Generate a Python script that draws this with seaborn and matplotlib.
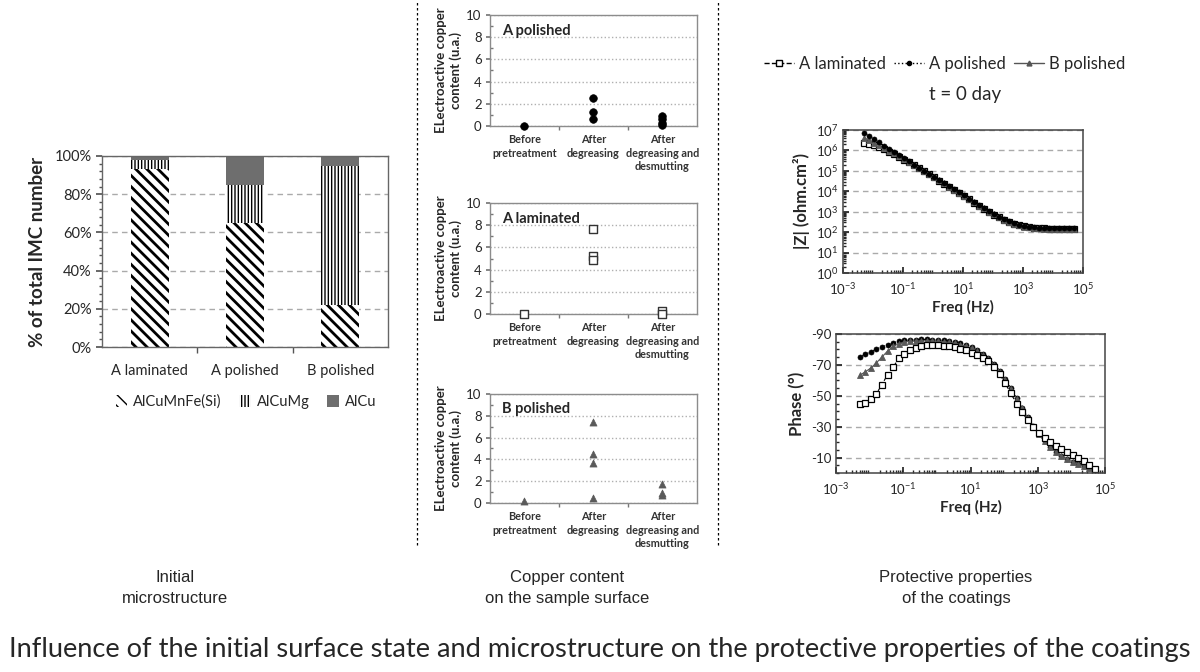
import numpy as np
import pandas as pd
import matplotlib
matplotlib.use("Agg")
import matplotlib.pyplot as plt
import seaborn as sns
from matplotlib.patches import Patch
from matplotlib.lines import Line2D
from matplotlib.ticker import (MultipleLocator, FixedLocator, PercentFormatter,
                               NullFormatter, LogLocator)

sns.set_theme(style="white")
plt.rcParams['font.family'] = ['Lato', 'DejaVu Sans']
plt.rcParams['hatch.linewidth'] = 1.0
plt.rcParams['axes.unicode_minus'] = False

# ---------------- data ----------------
samples = ["A laminated", "A polished", "B polished"]
imc_labels = ["AlCuMnFe(Si)", "AlCuMg", "AlCu"]
alcumnfe = [0.93, 0.65, 0.22]
alcumg = [0.05, 0.20, 0.73]
alcu = [0.02, 0.15, 0.05]

steps = ["Before\npretreatment", "After\ndegreasing", "After\ndegreasing and\ndesmutting"]
cu_a_pol_step = [0, 1, 1, 1, 2, 2, 2, 2]
cu_a_pol_val = [0.0, 2.5, 1.3, 0.6, 0.9, 0.6, 0.3, 0.13]
cu_a_lam_step = [0, 1, 1, 1, 2, 2]
cu_a_lam_val = [0.02, 7.7, 5.2, 4.9, 0.3, 0.02]
cu_b_pol_step = [0, 1, 1, 1, 1, 2, 2, 2]
cu_b_pol_val = [0.2, 7.4, 4.5, 3.7, 0.5, 1.7, 0.9, 0.7]

freq = [0.00501, 0.00736, 0.0108, 0.0158, 0.0233, 0.0341, 0.0501, 0.0736, 0.108, 0.158,
        0.233, 0.341, 0.501, 0.736, 1.08, 1.58, 2.33, 3.41, 5.01, 7.36,
        10.8, 15.8, 23.3, 34.1, 50.1, 73.6, 108, 158, 233, 341,
        501, 736, 1080, 1580, 2330, 3410, 5010, 7360, 10800, 15800,
        23300, 34100, 50100]

zmod_a_lam = [2.4e6, 2.1e6, 1.74e6, 1.41e6, 1.12e6, 8.7e5, 6.6e5, 4.9e5, 3.55e5, 2.6e5,
              1.9e5, 1.35e5, 9.5e4, 6.8e4, 4.8e4, 3.3e4, 2.35e4, 1.66e4, 1.17e4, 8.1e3,
              5.75e3, 3.98e3, 2.8e3, 2.0e3, 1.41e3, 1.0e3, 724, 537, 407, 324,
              263, 224, 195, 178, 166, 158, 151, 148, 145, 145,
              141, 141, 141]
zmod_a_pol = [7.4e6, 5.1e6, 3.5e6, 2.5e6, 1.7e6, 1.2e6, 8.3e5, 5.8e5, 4.1e5, 2.9e5,
              2.0e5, 1.4e5, 1.0e5, 7.2e4, 5.1e4, 3.5e4, 2.5e4, 1.8e4, 1.3e4, 8.7e3,
              6.2e3, 4.3e3, 3.0e3, 2.1e3, 1.5e3, 1.07e3, 776, 575, 437, 339,
              275, 234, 204, 186, 174, 166, 162, 158, 155, 155,
              151, 151, 151]
zmod_b_pol = [4.2e6, 3.2e6, 2.4e6, 1.8e6, 1.3e6, 9.8e5, 7.2e5, 5.2e5, 3.8e5, 2.75e5,
              1.95e5, 1.38e5, 9.8e4, 6.9e4, 4.9e4, 3.4e4, 2.4e4, 1.7e4, 1.2e4, 8.3e3,
              5.9e3, 4.1e3, 2.9e3, 2.0e3, 1.45e3, 1.02e3, 741, 537, 407, 316,
              257, 214, 186, 170, 158, 151, 145, 141, 138, 138,
              135, 135, 135]

phase_a_lam = [-44.5, -45.6, -47.7, -51.4, -57.3, -63.8, -68.7, -74.2, -76.8, -79.6,
               -81.1, -82.2, -82.7, -82.9, -82.8, -82.5, -82.0, -81.3, -80.4, -79.4,
               -78.0, -76.5, -74.8, -72.3, -68.6, -64.0, -58.0, -51.5, -45.0, -39.3,
               -34.2, -29.8, -26.0, -22.8, -20.0, -17.6, -15.4, -13.4, -11.5, -9.6,
               -7.6, -5.3, -2.8]
phase_a_pol = [-75.0, -76.8, -78.5, -80.2, -81.8, -83.2, -84.4, -85.3, -85.9, -86.2,
               -86.4, -86.5, -86.5, -86.4, -86.2, -85.9, -85.4, -84.8, -84.0, -82.9,
               -81.5, -79.7, -77.4, -74.5, -70.8, -66.3, -61.0, -55.0, -48.6, -42.2,
               -36.0, -30.3, -25.2, -20.8, -17.0, -13.9, -11.3, -9.1, -7.3, -5.8,
               -4.5, -3.4, -2.4]
phase_b_pol = [-63.3, -65.5, -68.0, -71.3, -75.2, -79.0, -82.0, -83.8, -84.8, -85.3,
               -85.5, -85.6, -85.6, -85.5, -85.3, -85.0, -84.6, -84.0, -83.2, -82.1,
               -80.7, -78.9, -76.6, -73.7, -70.0, -65.5, -60.3, -54.4, -48.1, -41.8,
               -35.7, -30.0, -25.0, -20.6, -16.9, -13.8, -11.2, -9.0, -7.2, -5.7,
               -4.4, -3.3, -2.3]

fig = plt.figure(figsize=(12, 6.72), dpi=100)

# ---------------- bar chart ----------------
axb = fig.add_axes([0.085, 0.4836, 0.2383, 0.2843])
cum2 = np.array(alcumnfe) + np.array(alcumg)
cum3 = cum2 + np.array(alcu)


def add_bars(values, color, hatch, hlw):
    n0 = len(axb.patches)
    sns.barplot(x=samples, y=values, color=color, saturation=1, width=0.4,
                errorbar=None, linewidth=0, edgecolor="black", hatch=hatch, ax=axb)
    for p in axb.patches[n0:]:
        if hasattr(p, "set_hatch_linewidth"):
            p.set_hatch_linewidth(hlw)


add_bars(cum3, "#6e6e6e", None, 1.0)
add_bars(cum2, "white", "|||||", 1.0)
add_bars(alcumnfe, "white", "\\\\\\", 2.0)

axb.set_xlim(-0.5, 2.5)
axb.set_ylim(0, 1)
axb.yaxis.set_major_locator(MultipleLocator(0.2))
axb.yaxis.set_minor_locator(MultipleLocator(0.04))
axb.yaxis.set_major_formatter(PercentFormatter(1.0, decimals=0))
axb.set_axisbelow(True)
axb.yaxis.grid(True, which="major", ls=(0, (4, 3)), color="#aaaaaa", lw=1)
axb.tick_params(axis="y", which="major", length=4, direction="out", labelsize=10.5,
                color="#555555", left=True)
axb.tick_params(axis="y", which="minor", length=2.5, direction="out", color="#555555", left=True)
axb.xaxis.set_minor_locator(FixedLocator([0.5, 1.5]))
axb.tick_params(axis="x", which="major", length=0, labelsize=10.5, pad=12)
axb.tick_params(axis="x", which="minor", length=4, direction="out", color="#555555", bottom=True)
for s in axb.spines.values():
    s.set_color("#666666")
    s.set_linewidth(1)
axb.set_xlabel("")
axb.set_ylabel("% of total IMC number", fontsize=13.5, fontweight="bold", labelpad=6)

leg_handles = [
    Patch(facecolor="white", edgecolor="black", hatch="\\\\\\", lw=0),
    Patch(facecolor="white", edgecolor="black", hatch="|||||", lw=0),
    Patch(facecolor="#6e6e6e", edgecolor="#6e6e6e", lw=0),
]
fig.legend(leg_handles, imc_labels, loc="center", bbox_to_anchor=(0.205, 0.402),
           ncol=3, frameon=False, fontsize=10.5, handlelength=0.8, handleheight=0.8,
           handletextpad=0.4, columnspacing=1.2)

# ---------------- copper content scatter panels ----------------
mid_specs = [
    ([0.4083, 0.8125, 0.1725, 0.1652], "A polished", cu_a_pol_step, cu_a_pol_val,
     dict(marker="o", s=30, color="black", edgecolor="black", linewidth=0.5)),
    ([0.4083, 0.5327, 0.1725, 0.1652], "A laminated", cu_a_lam_step, cu_a_lam_val,
     dict(marker="s", s=30, color="white", edgecolor="#333333", linewidth=1.0)),
    ([0.4083, 0.2515, 0.1725, 0.1622], "B polished", cu_b_pol_step, cu_b_pol_val,
     dict(marker="^", s=26, color="#5a5a5a", edgecolor="#5a5a5a", linewidth=0.5)),
]
for rect, title, xs, ys, mk in mid_specs:
    ax = fig.add_axes(rect)
    df = pd.DataFrame({"step": xs, "value": ys})
    sns.scatterplot(data=df, x="step", y="value", ax=ax, clip_on=False, zorder=3, **mk)
    ax.set_xlim(-0.5, 2.5)
    ax.set_ylim(0, 10)
    ax.set_yticks([0, 2, 4, 6, 8, 10])
    ax.yaxis.set_minor_locator(MultipleLocator(1))
    ax.set_xticks([0, 1, 2])
    ax.set_xticklabels(steps, fontsize=7.8, fontweight="bold", color="#333333",
                       linespacing=1.25, va="top")
    ax.xaxis.set_minor_locator(FixedLocator([0.5, 1.5]))
    ax.tick_params(axis="x", which="major", length=0, pad=6)
    ax.tick_params(axis="x", which="minor", length=3, direction="out", color="#777777", bottom=True)
    ax.tick_params(axis="y", which="major", length=3, labelsize=9.5, pad=3, color="#777777", left=True)
    ax.tick_params(axis="y", which="minor", length=2, direction="in", color="#777777", left=True)
    ax.yaxis.grid(True, ls=":", color="#b0b0b0", lw=1)
    ax.set_axisbelow(True)
    for s in ax.spines.values():
        s.set_color("#8c8c8c")
        s.set_linewidth(1)
    ax.set_xlabel("")
    ax.set_ylabel("ELectroactive copper\ncontent (u.a.)", fontsize=9.5, fontweight="bold",
                  labelpad=3, linespacing=1.2)
    ax.text(0.06, 0.86, title, transform=ax.transAxes, fontsize=10.5, fontweight="bold",
            va="center", ha="left")

# ---------------- EIS Bode plots ----------------
axz = fig.add_axes([0.7025, 0.5938, 0.2, 0.2128])
axp = fig.add_axes([0.6967, 0.2961, 0.2242, 0.2068])

styles = {
    "A polished": dict(color="black", linestyle=":", marker="o", markersize=3.6,
                       markerfacecolor="black", markeredgecolor="black",
                       markeredgewidth=0.5, lw=0.8),
    "B polished": dict(color="#555555", linestyle="-", marker="^", markersize=4.5,
                       markerfacecolor="#5a5a5a", markeredgecolor="#5a5a5a",
                       markeredgewidth=0.6, lw=0.8),
    "A laminated": dict(color="black", linestyle="--", marker="s", markersize=5,
                        markerfacecolor="white", markeredgecolor="black",
                        markeredgewidth=0.9, lw=0.8),
}
zdata = {"A laminated": zmod_a_lam, "A polished": zmod_a_pol, "B polished": zmod_b_pol}
pdata = {"A laminated": phase_a_lam, "A polished": phase_a_pol, "B polished": phase_b_pol}

for name in ["A laminated", "B polished", "A polished"]:
    sns.lineplot(x=freq, y=zdata[name], ax=axz, legend=False, **styles[name])
for name in ["A polished", "B polished", "A laminated"]:
    sns.lineplot(x=freq, y=pdata[name], ax=axp, legend=False, **styles[name])

for ax in (axz, axp):
    ax.set_xscale("log")
    ax.set_xlim(1e-3, 1e5)
    ax.set_xticks([1e-3, 1e-1, 1e1, 1e3, 1e5])
    ax.xaxis.set_minor_locator(LogLocator(base=10, subs=np.arange(2, 10), numticks=20))
    ax.xaxis.set_minor_formatter(NullFormatter())
    ax.tick_params(axis="x", which="major", length=4, direction="in", labelsize=9.5, pad=6,
                   bottom=True)
    ax.tick_params(axis="x", which="minor", length=2, direction="in", bottom=True)
    ax.tick_params(axis="y", which="major", length=4, direction="in", labelsize=9.5, left=True)
    ax.tick_params(axis="y", which="minor", length=2, direction="in", left=True)
    ax.set_axisbelow(True)
    for s in ax.spines.values():
        s.set_color("#444444")
        s.set_linewidth(1.1)
    ax.set_xlabel("Freq (Hz)", fontsize=11, fontweight="bold", labelpad=2)

axz.set_yscale("log")
axz.set_ylim(1, 1e7)
axz.set_yticks([1, 1e1, 1e2, 1e3, 1e4, 1e5, 1e6, 1e7])
axz.yaxis.set_minor_locator(LogLocator(base=10, subs=np.arange(2, 10), numticks=20))
axz.yaxis.set_minor_formatter(NullFormatter())
axz.yaxis.grid(True, which="major", ls=(0, (4, 3)), color="#aaaaaa", lw=1)
axz.set_ylabel("|Z| (ohm.cm²)", fontsize=12, fontweight="bold", labelpad=4)

axp.set_ylim(0, -90)
axp.set_yticks([-90, -70, -50, -30, -10])
axp.yaxis.set_minor_locator(MultipleLocator(5))
axp.yaxis.grid(True, which="major", ls=(0, (4, 3)), color="#aaaaaa", lw=1)
axp.set_ylabel("Phase (°)", fontsize=12, fontweight="bold", labelpad=4)

eis_handles = [
    Line2D([], [], color="black", ls="--", marker="s", ms=4, mfc="white", mec="black", lw=1),
    Line2D([], [], color="black", ls=":", marker="o", ms=3, lw=1),
    Line2D([], [], color="#555555", ls="-", marker="^", ms=3.5, lw=1),
]
fig.legend(eis_handles, ["A laminated", "A polished", "B polished"], loc="center",
           bbox_to_anchor=(0.787, 0.905), ncol=3, frameon=False, fontsize=12,
           handlelength=1.8, handletextpad=0.3, columnspacing=0.5)
fig.text(0.804, 0.859, "t = 0 day", fontsize=13.5, ha="center", va="center")

# ---------------- separators and captions ----------------
for xf in (417 / 1200, 718 / 1200):
    fig.add_artist(Line2D([xf, xf], [1 - 545 / 672, 1.0], transform=fig.transFigure,
                          color="black", lw=0.9, ls=(0, (2, 2))))

cap_font = ["Liberation Sans Narrow", "Liberation Sans", "DejaVu Sans"]
fig.text(175 / 1200, 1 - 588 / 672, "Initial\nmicrostructure", ha="center", va="center",
         fontsize=12, family=cap_font, linespacing=1.45)
fig.text(567 / 1200, 1 - 588 / 672, "Copper content\non the sample surface", ha="center",
         va="center", fontsize=12, family=cap_font, linespacing=1.45)
fig.text(956 / 1200, 1 - 588 / 672, "Protective properties\nof the coatings", ha="center",
         va="center", fontsize=12, family=cap_font, linespacing=1.45)
fig.text(0.5, 1 - 650 / 672,
         "Influence of the initial surface state and microstructure on the protective properties of the coatings",
         ha="center", va="center", fontsize=19.6, family=["Lato", "DejaVu Sans"])

fig.savefig("out.png", dpi=100)
